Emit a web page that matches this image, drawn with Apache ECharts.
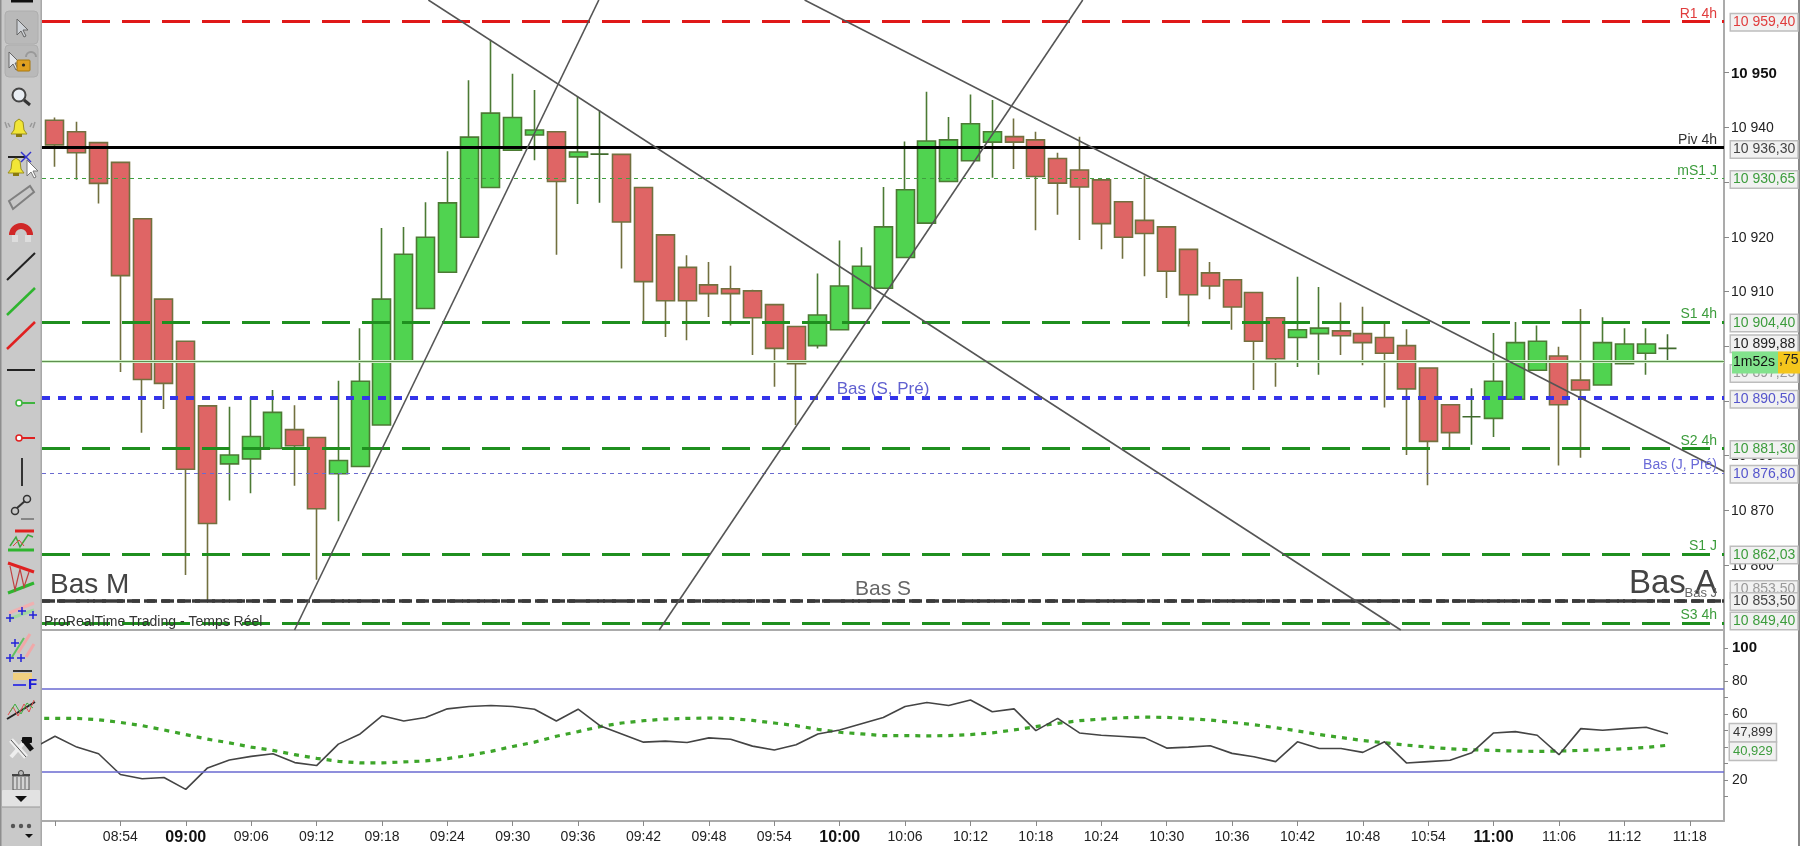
<!DOCTYPE html>
<html><head><meta charset="utf-8">
<style>html,body{margin:0;padding:0;background:#fff;overflow:hidden}#main{width:1800px;height:846px;filter:blur(0.5px)}</style>
<script src="https://cdn.jsdelivr.net/npm/echarts@6/dist/echarts.min.js"></script>
</head><body><div id="main"></div>
<script>
const times=['08:48','08:50','08:52','08:54','08:56','08:58','09:00','09:02','09:04','09:06','09:08','09:10','09:12','09:14','09:16','09:18','09:20','09:22','09:24','09:26','09:28','09:30','09:32','09:34','09:36','09:38','09:40','09:42','09:44','09:46','09:48','09:50','09:52','09:54','09:56','09:58','10:00','10:02','10:04','10:06','10:08','10:10','10:12','10:14','10:16','10:18','10:20','10:22','10:24','10:26','10:28','10:30','10:32','10:34','10:36','10:38','10:40','10:42','10:44','10:46','10:48','10:50','10:52','10:54','10:56','10:58','11:00','11:02','11:04','11:06','11:08','11:10','11:12','11:14','11:16','11:18'];
const opens=[10941.3,10939.2,10937.2,10933.6,10923.3,10908.6,10900.9,10889.1,10878.5,10879.4,10881.3,10884.75,10883.3,10876.7,10878,10885.6,10897.1,10906.9,10913.5,10919.9,10929,10935.8,10938.6,10939.2,10934.6,10935.1,10935.05,10929,10920.35,10914.4,10911.2,10910.5,10910.1,10907.6,10903.6,10900.1,10903,10906.9,10910.6,10916.2,10922.5,10930.1,10933.9,10937.3,10938.3,10937.7,10934.3,10932.2,10930.4,10926.4,10923,10921.8,10917.7,10913.4,10912.15,10909.8,10905.2,10901.6,10902.3,10902.8,10902.3,10901.6,10900.1,10896,10889.3,10887.1,10886.8,10890.3,10895.6,10898.2,10893.8,10892.9,10896.8,10898.7,10899.6];
const closes=[10936.8,10935.35,10929.75,10912.9,10893.9,10893.2,10877.5,10867.6,10880.1,10883.5,10887.9,10881.8,10870.3,10879.1,10893.6,10908.6,10916.8,10919.9,10926.2,10938.2,10942.6,10941.8,10939.5,10930.1,10935.5,10935.1,10922.7,10911.8,10908.3,10908.3,10909.6,10909.6,10905.2,10899.6,10896.8,10905.7,10911,10914.6,10921.8,10928.6,10937.5,10937.7,10940.65,10939.2,10937.3,10931,10929.8,10929.1,10922.4,10919.9,10920.6,10913.7,10909.4,10911,10907.15,10900.9,10897.7,10903,10903.3,10901.9,10900.65,10898.7,10892.2,10882.6,10884.2,10887.1,10893.6,10900.65,10900.9,10889.3,10892,10900.65,10900.4,10900.4,10899.6];
const lows=[10932.8,10930.4,10926.1,10895.3,10884.2,10888.5,10858.2,10853.3,10871.8,10873.1,10881.3,10874.5,10857.3,10868,10878,10885.6,10897.1,10906.9,10913.5,10919.9,10929,10935.8,10934,10916.7,10926,10926.2,10914.2,10904.3,10901.7,10901.1,10905.35,10903.8,10898.4,10892.6,10885.6,10899.6,10903,10906.9,10910.6,10916.2,10922.5,10930.1,10933.9,10930.8,10932.4,10921.2,10924,10919.4,10917.7,10916,10912.8,10908.8,10903.6,10908.6,10903,10892,10892.6,10896.2,10894.8,10898.4,10896.5,10888.8,10880.1,10874.6,10881.3,10882,10883.4,10890.3,10895.6,10878.2,10879.6,10892.9,10896.8,10894.8,10897.4];
const highs=[10941.8,10941,10937.2,10933.6,10923.3,10908.6,10900.9,10889.1,10888.95,10890.7,10892,10889.2,10883.3,10893.7,10903.3,10921.6,10921.8,10926.3,10935.65,10948.6,10956,10949.8,10946.8,10939.2,10945.65,10943.1,10935.05,10929,10920.35,10916.6,10915.4,10914.7,10910.3,10907.6,10903.6,10913.3,10919.3,10918.1,10929.1,10937.4,10946.5,10941.9,10946,10945,10941.6,10939.2,10935.35,10938.3,10930.4,10926.4,10931.2,10921.8,10917.7,10915.4,10912.15,10909.8,10905.2,10912.7,10910.8,10908,10907.2,10904.4,10903.1,10896,10889.3,10892.3,10902.4,10904.4,10903.8,10899.9,10906.8,10905.3,10903.3,10903.3,10902.2];
// oscillator: first value belongs to the bar before 08:48
const oscFast=[39.2,46.4,39.8,35.8,23.2,20.6,21.4,14.2,27.2,32,34.2,35.8,30.4,28.6,41.6,47.8,58.8,55.6,57.8,63,64.4,65,64.4,62.8,55.6,62.8,52.8,47.8,42.8,43.4,42.6,45.4,44.6,40.4,38,41.2,47.8,50.2,54,57.8,64.4,66.8,65,68.4,61.2,63,49.8,57.2,48.4,47,46.2,45.4,39.2,39.8,40.6,36,34,31,43,39,39,36.6,43,30.2,31,31.8,36.4,48.4,49.2,47,35.2,51,50,51,51.8,47.9];
const oscSlow=[57.2,57.2,57.2,56.4,54.8,52.8,50.2,47.4,44.6,42.4,39.8,37.8,35.2,33,31.2,30.2,30.2,30.8,31.4,32.8,34.8,37.2,40.2,42.8,46.4,49.2,52.2,54.4,55.8,56.8,57.2,57.4,57.2,56,54.4,52.8,50.6,48.8,47.8,46.8,46.8,46.6,46.8,47.4,48.4,50.2,52.2,54.2,55.8,56.8,57.6,58,57.8,57,56.2,54.8,53.4,51.6,49.6,47.4,45.6,43.8,42.4,41,39.8,38.8,38.2,37.8,37.4,37.2,37.4,37.8,38.2,38.8,39.6,40.93];
const oscBands=[75,25];
const levelValues=[10959.4,10936.3,10930.65,10904.4,10897.2,10890.5,10881.3,10876.8,10862.03,10853.5,10853.5,10849.4];
const priceTexts=['10 959,40','10 936,30','10 930,65','10 904,40','10 897,25','10 890,50','10 881,30','10 876,80','10 862,03','10 853,50','10 853,50','10 849,40'];
const nameValues=[10959.4,10936.3,10930.65,10904.4,10890.5,10881.3,10876.8,10862.03,10853.5,10853.5,10853.5,10853.5,10849.4];
const nameTexts=['R1 4h','Piv 4h','mS1 J','S1 4h','Bas (S, Pré)','S2 4h','Bas (J, Pré)','S1 J','Bas M','Bas S','Bas A','Bas J','S3 4h'];
const priceTicks=[10860,10870,10880,10890,10900,10910,10920,10930,10940,10950];
const priceTickTexts=['10 860','10 870','10 880','10 890','10 900','10 910','10 920','10 930','10 940','10 950'];
const oscTicks=[10,20,30,40,50,60,70,80,90,100];
const oscLabels=[20,40,60,80,100];
const lastClose=10899.88, lastCloseText='10 899,88';
const timerText='1m52s', timerSuffix=',75';
const oscLast=47.899, oscLastText='47,899', oscSlowLast=40.929, oscSlowLastText='40,929';
// trend lines: [bar index, price] pairs
const trendLines=[[[17.13,10963.27],[61.74,10848.13]],[[34.39,10963.27],[76.57,10877.1]],[[10.99,10848.13],[24.95,10963.27]],[[27.72,10848.13],[47.15,10963.27]]];
const xRange=[-0.596,76.57], priceRange=[10848.13,10963.27], oscRange=[-5,110.5];

const FONT='"Liberation Sans",Arial,sans-serif';
const GREEN='#1f8f1f',TXTG='#3c9c3c',RED='#e01818',BLUE='#3434ea',VIO='#6a6ad0',BLK='#3a3a3a';
const HIDE={color:'transparent',width:0};
const lineStyles=[
 {color:RED,width:2.8,type:[28,12]},{color:'#000',width:3,type:'solid'},{color:'#3f9f3f',width:1,type:[4,4]},
 {color:GREEN,width:2.8,type:[28,12]},{color:'#5f8f50',width:1.2,type:'solid'},{color:BLUE,width:4,type:[8,8]},
 {color:GREEN,width:2.8,type:[28,12]},{color:VIO,width:1,type:[4,4]},{color:GREEN,width:2.8,type:[28,12]},
 {color:BLK,width:3.5,type:[13,4]},{color:BLK,width:3.5,type:[8,7]},{color:GREEN,width:2.8,type:[28,12]}];
const boxColors=['#e03c3c','#444','#3c9c3c','#3c9c3c','#999','#5555cc','#3c9c3c','#5555cc','#3c9c3c','#999','#444','#3c9c3c'];
const boxDy=[1,2,1,1,12,1,1,1,1,-11,1,-2];
const nameStyles=[
 {color:'#e03c3c',fontSize:14,pos:'insideEndTop'},{color:'#333',fontSize:14,pos:'insideEndTop'},{color:TXTG,fontSize:14,pos:'insideEndTop'},
 {color:TXTG,fontSize:14,pos:'insideEndTop'},{color:'#6060d0',fontSize:17,pos:'insideMiddleTop'},{color:TXTG,fontSize:14,pos:'insideEndTop'},
 {color:'#6a6ad8',fontSize:14,pos:'insideEndTop'},{color:TXTG,fontSize:14,pos:'insideEndTop'},{color:'#444',fontSize:28,pos:'insideStartTop'},
 {color:'#666',fontSize:21,pos:'insideMiddleTop'},{color:'#444',fontSize:33,pos:'insideEndTop'},{color:'#666',fontSize:13,pos:'insideEndTop'},
 {color:TXTG,fontSize:14,pos:'insideEndTop'}];

const candleData=times.slice(0,opens.length).map((t,i)=>[i,opens[i],closes[i],lows[i],highs[i]]);
const osc=a=>a.map((v,i)=>[i-1,v]);
const boxLabel=(txt,color,dy)=>({show:true,position:'end',distance:7,formatter:txt,color,fontFamily:FONT,fontSize:14,backgroundColor:'#f1f1f1',borderColor:'#bdbdbd',borderWidth:1.5,padding:[1,2,1,2],offset:[0,dy]});
const smallBox=(txt,color,dy)=>({show:true,position:'end',distance:6,formatter:txt,color,fontFamily:FONT,fontSize:13,backgroundColor:'#f1f1f1',borderColor:'#bdbdbd',borderWidth:1.5,padding:[2,3,2,3],offset:[0,dy]});

// toolbar drawing helpers
const els=[];
const L=(a,b,c,d,col,w=2)=>els.push({type:'line',shape:{x1:a,y1:b,x2:c,y2:d},style:{stroke:col,lineWidth:w}});
const R=(x,y,w,h,fill,r=0,st)=>els.push({type:'rect',shape:{x,y,width:w,height:h,r},style:{fill,stroke:st}});
const C=(cx,cy,r,fill,st,w=1.5)=>els.push({type:'circle',shape:{cx,cy,r},style:{fill,stroke:st,lineWidth:w}});
const PG=(pts,fill,st,w=1)=>els.push({type:'polygon',shape:{points:pts},style:{fill,stroke:st,lineWidth:w}});
const PL=(pts,st,w=1.5)=>els.push({type:'polyline',shape:{points:pts},style:{fill:'none',stroke:st,lineWidth:w}});
R(0,0,42,846,'#c9c9c9');R(0,0,1.5,846,'#8e8e8e');R(40.5,0,1.5,846,'#a8a8a8');
L(11,1,33,1,'#111',3);L(27,0,33,0,'#111',3);
R(5,11,33,33,'#b9b9b9',4,'#aeaeae');R(5,45,33,32,'#b9b9b9',4,'#aeaeae');
const arrow=(x,y,f,s)=>PG([[x,y],[x,y+16],[x+4,y+12],[x+7,y+18],[x+9,y+17],[x+6,y+11],[x+11,y+11]],f,s);
arrow(17,19,'#cfd3d8','#666');arrow(9,52,'#e4e6ea','#666');
R(17,60,13,11,'#e0a020',1,'#a87810');C(23.5,65,1.6,'#222');els.push({type:'arc',shape:{cx:31,cy:57,r:5,startAngle:Math.PI,endAngle:0},style:{stroke:'#999',lineWidth:2,fill:'none'}});
C(19,95,6.5,'#e9eef4','#444',2);L(24,100,30,105,'#333',3);
const bell=(x,y)=>{PG([[x,y+15],[x+3,y+11],[x+4,y+3],[x+8,y],[x+12,y+3],[x+13,y+11],[x+16,y+15]],'#f2e637','#9a8f20');R(x+5,y+15,6,3,'#8a7a10')};
bell(11,119);PL([[8,123],[10,127]],'#999');PL([[32,123],[30,127]],'#999');PL([[5,122],[7,128]],'#999');PL([[35,122],[33,128]],'#999');
L(8,157,27,157,'#222',2);bell(8,158);L(21,152,31,162,'#3434d0',1.5);L(31,152,21,162,'#3434d0',1.5);arrow(27,160,'#fff','#777');
PG([[9,201],[30,186],[34,192],[13,209]],'#c8c8c8','#808080',2);
els.push({type:'arc',shape:{cx:21,cy:235,r:9,startAngle:Math.PI,endAngle:0},style:{stroke:'#d02828',lineWidth:6,fill:'none'}});R(12,235,6,7,'#ddd');R(25,235,6,7,'#ddd');
L(7,280,35,253,'#222');L(7,315,35,288,'#2fb52f',2.5);L(7,349,35,322,'#e02020',2.5);L(7,370,35,370,'#222');
C(19,403,3,'#fff','#3fb43f');L(22,403,35,403,'#3fb43f');C(19,438,3,'#fff','#e02020');L(22,438,35,438,'#e02020');
L(22,458,22,486,'#333');C(15,511,3.5,'none','#333');C(27,499,3.5,'none','#333');L(17,508,25,501,'#333');L(21,519,34,519,'#444',1);
L(15,531,34,531,'#e02020',3);L(8,550,34,550,'#2fb52f',3);PL([[10,546],[16,537],[20,547],[28,535],[33,537]],'#3da83d');PL([[13,546],[19,540],[24,546]],'#e04040',1);
L(8,563,34,572,'#e02020',3);L(8,593,34,583,'#2fb52f',3);PL([[10,566],[15,590],[20,569],[24,587],[29,572]],'#c04040',1.2);
L(9,613,34,603,'#f0b0b0',3);L(9,619,34,610,'#a0d8a0',3);[[10,618],[22,611],[33,615]].forEach(p=>{L(p[0]-4,p[1],p[0]+4,p[1],'#2020d8',1.5);L(p[0],p[1]-4,p[0],p[1]+4,'#2020d8',1.5)});
L(18,653,30,634,'#f0a8a8',3);L(12,657,24,638,'#60c060',2);L(26,657,34,644,'#f0a8a8',3);[[15,643],[10,658],[21,658]].forEach(p=>{L(p[0]-4,p[1],p[0]+4,p[1],'#2020d8',1.5);L(p[0],p[1]-4,p[0],p[1]+4,'#2020d8',1.5)});
L(13,671,32,671,'#333',2);R(13,673,19,7,'#f0d080');L(13,685,26,685,'#4040e0',2);els.push({type:'text',style:{x:28,y:677,text:'F',font:'bold 15px '+FONT,fill:'#1c1cd8'}});
L(7,719,35,702,'#222',2);PL([[8,715],[13,707],[18,716],[24,704],[29,712],[34,700]],'#e05050',1);PL([[10,712],[15,704],[21,714],[27,703],[33,708]],'#40b040',1);
L(11,740,26,757,'#eee',5);L(11,757,26,740,'#eee',4);L(11,740,26,757,'#555',1);R(22,737,10,6,'#111',1);L(23,739,32,750,'#111',5);
R(13,776,16,14,'#d4d4d4',0,'#555');L(12,775,30,775,'#444',2);C(21,773,2.5,'#bbb','#444',1);L(17,777,17,789,'#666',1);L(21,777,21,789,'#666',1);L(25,777,25,789,'#666',1);
R(2,790,38,17,'#e2e2e2',1);PG([[15,796],[27,796],[21,802]],'#111');L(2,807,40,807,'#999',1);
[13,21,29].forEach(x=>C(x,826,2.2,'#555'));PG([[25,834],[33,834],[29,838]],'#111');
R(1798,0,2,846,'#888');

const chart=echarts.init(document.getElementById('main'));
const priceAxis={gridIndex:0,type:'value',position:'right',min:priceRange[0],max:priceRange[1],splitLine:{show:false},
 axisLine:{show:true,onZero:false,lineStyle:{color:'#ababab',width:2}},
 axisTick:{show:true,length:5,customValues:priceTicks,lineStyle:{color:'#888'}},
 axisLabel:{margin:7,color:'#222',fontFamily:FONT,fontSize:14,customValues:priceTicks,hideOverlap:false,padding:[2,0,0,0],
  formatter:v=>{const t=priceTickTexts[priceTicks.indexOf(Math.round(v))];return Math.round(v)===10950?'{b|'+t+'}':t},rich:{b:{fontWeight:'bold',fontSize:15,color:'#111',fontFamily:FONT}}}};
const oscAxis={gridIndex:1,type:'value',position:'right',min:oscRange[0],max:oscRange[1],splitLine:{show:false},
 axisLine:{show:true,onZero:false,lineStyle:{color:'#ababab',width:2}},
 axisTick:{show:true,length:4,customValues:oscTicks,lineStyle:{color:'#888'}},
 axisLabel:{margin:8,color:'#222',fontFamily:FONT,fontSize:14,customValues:oscLabels,
  formatter:v=>Math.round(v)===100?'{b|100}':String(Math.round(v)),rich:{b:{fontWeight:'bold',fontSize:15,color:'#111',fontFamily:FONT}}}};
const tickIdx=times.map((t,i)=>i).filter(i=>i%3===0);
const labelIdx=tickIdx.filter(i=>i>0);
const option={
 animation:false,backgroundColor:'#fff',
 title:{text:'ProRealTime Trading - Temps Réel',left:39,top:610,textStyle:{fontFamily:FONT,fontSize:14,fontWeight:'normal',color:'#333'},z:8},
 grid:[{left:42,right:76,top:0,height:630,containLabel:false},{left:42,right:76,top:630.5,height:192.8}],
 xAxis:[
  {gridIndex:0,type:'value',min:xRange[0],max:xRange[1],position:'bottom',splitLine:{show:false},axisTick:{show:false},axisLabel:{show:false},axisLine:{show:true,onZero:false,lineStyle:{color:'#ababab',width:2}}},
  {gridIndex:1,type:'value',min:xRange[0],max:xRange[1],position:'bottom',splitLine:{show:false},
   axisLine:{show:true,onZero:false,lineStyle:{color:'#ababab',width:2}},
   axisTick:{show:true,length:5,customValues:tickIdx,lineStyle:{color:'#888'}},
   axisLabel:{margin:9,color:'#222',fontFamily:FONT,fontSize:14,customValues:labelIdx,
    formatter:v=>{const t=times[Math.round(v)];return t.endsWith(':00')?'{b|'+t+'}':t},rich:{b:{fontWeight:'bold',fontSize:16,color:'#111',fontFamily:FONT}}}}],
 yAxis:[priceAxis,oscAxis],
 graphic:{elements:els},
 series:[
  {name:'Prix',type:'candlestick',xAxisIndex:0,yAxisIndex:0,barWidth:18.5,z:2,encode:{x:0,y:[1,2,3,4]},data:candleData,
   itemStyle:{color:'#50d350',color0:'#df6565',borderColor:'#4c7a34',borderColor0:'#72703f',borderColorDoji:'#3f6a2c',borderWidth:1.6}},
  {name:'Niveaux',type:'line',xAxisIndex:0,yAxisIndex:0,z:5,data:[],symbol:'none',
   markLine:{silent:true,symbol:'none',animation:false,precision:4,label:{show:false},
    data:[{yAxis:levelValues[4],lineStyle:{color:'#cdeec4',width:3,type:'solid'}}].concat(levelValues.map((v,i)=>({yAxis:v,lineStyle:lineStyles[i]})))}},
  {name:'Droites',type:'line',xAxisIndex:0,yAxisIndex:0,z:6,data:[],symbol:'none',
   markLine:{silent:true,symbol:'none',animation:false,precision:4,lineStyle:{color:'#555',width:1.6,type:'solid'},label:{show:false},
    data:trendLines.map(l=>[{coord:l[0]},{coord:l[1]}])}},
  {name:'Noms',type:'line',xAxisIndex:0,yAxisIndex:0,z:7,data:[],symbol:'none',
   markLine:{silent:true,symbol:'none',animation:false,precision:4,lineStyle:HIDE,
    data:nameValues.map((v,i)=>({yAxis:v,label:{show:true,formatter:nameTexts[i],position:nameStyles[i].pos,color:nameStyles[i].color,fontSize:nameStyles[i].fontSize,fontFamily:FONT,distance:i===8?8:7,offset:[0,6.5]}}))}},
  {name:'Prix droite',type:'line',xAxisIndex:0,yAxisIndex:0,z:9,data:[],symbol:'none',
   markLine:{silent:true,symbol:'none',animation:false,precision:4,lineStyle:HIDE,
    data:[{yAxis:lastClose,label:boxLabel(lastCloseText,'#222',-3)}]
     .concat(levelValues.map((v,i)=>({yAxis:v,label:boxLabel(priceTexts[i],boxColors[i],boxDy[i])})))
     .concat([{yAxis:levelValues[4],label:{show:true,position:'end',distance:8,fontFamily:FONT,offset:[0,1],
       formatter:'{g|'+timerText+'}{y|'+timerSuffix+'}',
       rich:{g:{backgroundColor:'#82e28c',color:'#111',fontFamily:FONT,fontSize:14,padding:[4,1,4,1],width:44},
             y:{backgroundColor:'#f4c61c',color:'#222',fontFamily:FONT,fontSize:14,padding:[2,2,6,1]}}}}])}},
  {name:'Osc lent',type:'line',xAxisIndex:1,yAxisIndex:1,z:3,data:osc(oscSlow),symbol:'none',lineStyle:{color:'#3da52a',width:3.2,type:[5,6]}},
  {name:'Osc',type:'line',xAxisIndex:1,yAxisIndex:1,z:4,data:osc(oscFast),symbol:'none',lineStyle:{color:'#444',width:1.6},
   markLine:{silent:true,symbol:'none',animation:false,precision:3,lineStyle:{color:'#6a6ad0',width:1.6,type:'solid'},
    data:[{yAxis:oscBands[0],label:{show:false}},{yAxis:oscBands[1],label:{show:false}},
     {yAxis:oscLast,lineStyle:HIDE,label:smallBox(oscLastText,'#333',-1)},
     {yAxis:oscSlowLast,lineStyle:HIDE,label:smallBox(oscSlowLastText,'#3c9c3c',6)}]}}
 ]};
chart.setOption(option);
</script></body></html>
